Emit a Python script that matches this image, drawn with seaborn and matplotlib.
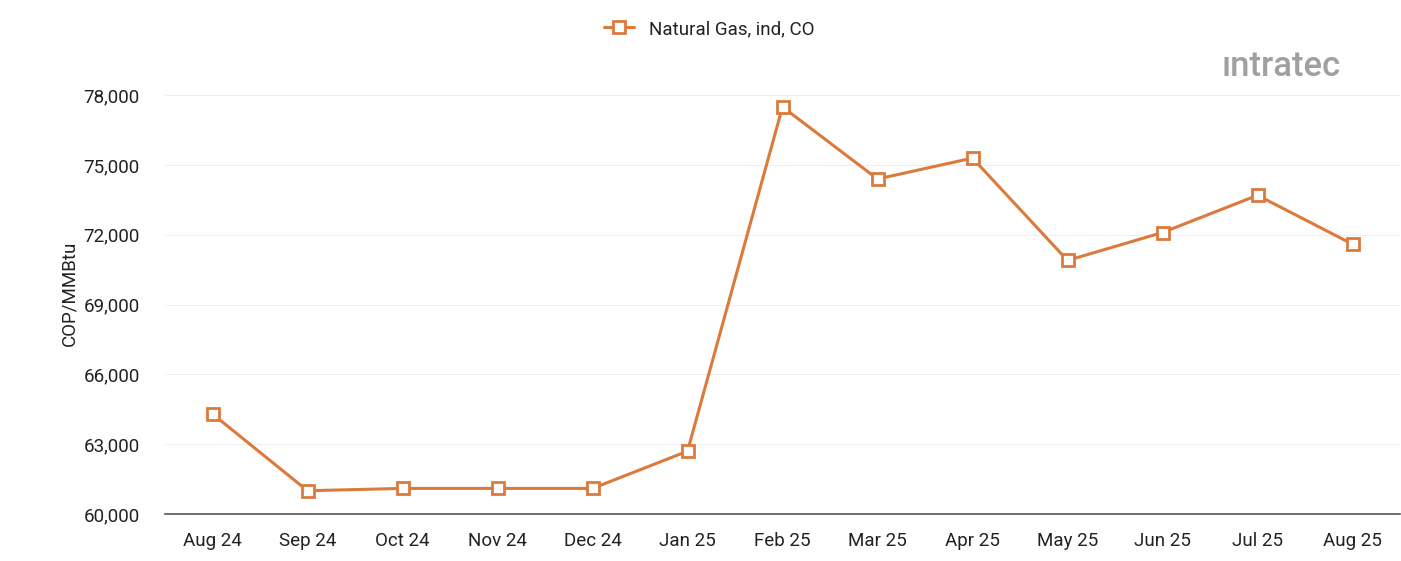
# Natural gas price line chart (COP/MMBtu), monthly

import matplotlib.pyplot as plt
import seaborn as sns
import pandas as pd

months = ['Aug 24', 'Sep 24', 'Oct 24', 'Nov 24', 'Dec 24', 'Jan 25', 'Feb 25',
          'Mar 25', 'Apr 25', 'May 25', 'Jun 25', 'Jul 25', 'Aug 25']
prices = [64300, 61000, 61100, 61100, 61100, 62700, 77500,
          74400, 75300, 70900, 72100, 73700, 71600]
series_name = 'Natural Gas, ind, CO'
yticks = [60000, 63000, 66000, 69000, 72000, 75000, 78000]

df = pd.DataFrame({'month': months, 'price': prices})
df['pos'] = range(len(df))

sns.set_style('white')
plt.rcParams['font.family'] = ['Roboto', 'DejaVu Sans']

orange = '#DC7A3C'
fig = plt.figure(figsize=(14.01, 5.61), dpi=100)
ax = fig.add_axes([165 / 1401, 1 - 514 / 561, 1235 / 1401, 442 / 561])

sns.lineplot(data=df, x='pos', y='price', ax=ax, color=orange, linewidth=2.2,
             marker='s', markersize=8, markerfacecolor='white',
             markeredgecolor=orange, markeredgewidth=2, label=series_name)

ax.set_xlim(-0.5, len(months) - 0.5)
ax.set_ylim(60000, 79000)
ax.set_xticks(df['pos'])
ax.set_xticklabels(months)
ax.set_yticks(yticks)
ax.set_yticklabels([f'{v:,}' for v in yticks])
ax.tick_params(axis='both', length=0, labelsize=13.5, colors='#222222')
ax.tick_params(axis='x', pad=13)
ax.tick_params(axis='y', pad=18)
ax.set_xlabel('')
ax.set_ylabel('COP/MMBtu', fontsize=13.5, color='#222222', labelpad=4)
ax.grid(axis='y', color='#eeeeee', linewidth=0.8)
for side in ['top', 'right', 'left']:
    ax.spines[side].set_visible(False)
ax.spines['bottom'].set_color('#555555')
ax.spines['bottom'].set_linewidth(1.2)

leg = fig.legend(*ax.get_legend_handles_labels(), loc='center',
                 bbox_to_anchor=(709 / 1401, 1 - 29 / 561), frameon=False,
                 fontsize=13.5, handlelength=1.6)
ax.get_legend().remove()
for t in leg.get_texts():
    t.set_color('#222222')

fig.text(1222 / 1401, 1 - 66 / 561, 'ıntratec', fontsize=25, color='#a0a0a0',
         fontweight='medium', va='center', ha='left')

fig.savefig('out.png', dpi=100)
